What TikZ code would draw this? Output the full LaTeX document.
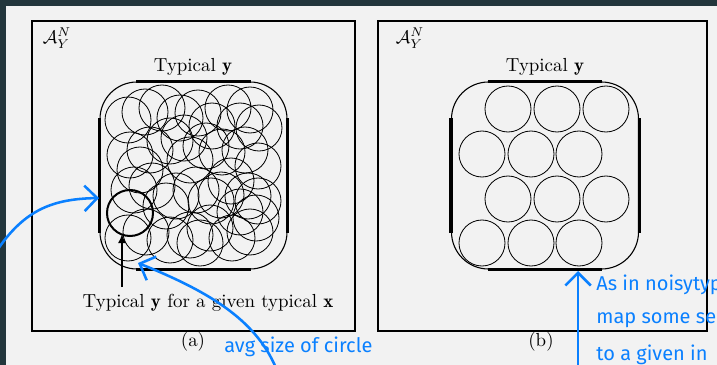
\documentclass[tikz,border=0pt]{standalone}
\usepackage{amsmath}
\usepackage{fontspec}
\newfontfamily\handfont{Fira Sans}
\usetikzlibrary{arrows.meta}

\definecolor{pagedark}{RGB}{35,54,60}
\definecolor{pagegray}{RGB}{242,242,242}
\definecolor{penblue}{RGB}{10,128,255}

\begin{document}
\begin{tikzpicture}
[
	x=0.55pt,
	y=-0.55pt,
	font=\fontsize{10.4}{12.5}\selectfont,
	frame/.style={draw,line width=1.1pt},
	typset/.style={draw,line width=0.6pt,rounded corners=20.35pt,minimum size=102.85pt,inner sep=0pt},
	edge/.style={line width=1.7pt},
	ring/.style={line width=0.45pt},
	pen/.style={penblue,line width=1.4pt,line cap=round,-{Straight Barb[length=7pt,width=14pt]}},
	note/.style={penblue,font=\handfont\fontsize{11}{13}\selectfont,inner sep=0pt,anchor=west}
]

	% page
	\useasboundingbox (0,0) rectangle (717,365);
	\fill[pagedark] (0,0) rectangle (717,365);
	\fill[pagegray] (6,6) rectangle (717,365);

	% panel (a)
	\draw[frame] (32,21) rectangle (355,331);
	\node (seta) at (57,38) {$\mathcal{A}_Y^N$};
	\node (tya) at (193,67) {Typical $\mathbf{y}$};
	\node[typset] (sqa) at (193.5,175.5) {};
	\draw[edge] ([xshift=20.35pt]sqa.north west) -- ([xshift=-20.35pt]sqa.north east);
	\draw[edge] ([xshift=20.35pt]sqa.south west) -- ([xshift=-20.35pt]sqa.south east);
	\draw[edge] ([yshift=-20.35pt]sqa.north west) -- ([yshift=20.35pt]sqa.south west);
	\draw[edge] ([yshift=-20.35pt]sqa.north east) -- ([yshift=20.35pt]sqa.south east);
	\foreach \cx/\cy in {128/120,145/112,162/108,180/118,198/113,212/126,228/108,250/110,259/128,240/126,
		130/155,150/150,170/141,190/160,206/146,222/152,245/150,258/166,184/138,140/170,
		134/190,152/186,176/196,196/190,211/201,231/181,248/196,258/201,240/212,166/206,221/195,
		128/238,146/232,170/240,190/235,210/228,232/238,250/232,256/218,200/243}
		\draw[ring] (\cx,\cy) circle[radius=23];
	\draw[line width=1.1pt] (130,213) circle[radius=23];
	\node (givena) at (208,303) {Typical $\mathbf{y}$ for a given typical $\mathbf{x}$};
	\coordinate (taila) at (122,287);
	\coordinate (tipa) at (122,234);
	\draw[line width=1.3pt,-{Latex[length=5pt,width=4.5pt]}] (taila) -- (tipa);
	\node (capa) at (193,342) {(a)};

	% panel (b)
	\draw[frame] (378,21) rectangle (707,331);
	\node (setb) at (410,38) {$\mathcal{A}_Y^N$};
	\node (tyb) at (545,67) {Typical $\mathbf{y}$};
	\node[typset] (sqb) at (545,175.5) {};
	\draw[edge] ([xshift=20.35pt]sqb.north west) -- ([xshift=-20.35pt]sqb.north east);
	\draw[edge] ([xshift=20.35pt]sqb.south west) -- ([xshift=-20.35pt]sqb.south east);
	\draw[edge] ([yshift=-20.35pt]sqb.north west) -- ([yshift=20.35pt]sqb.south west);
	\draw[edge] ([yshift=-20.35pt]sqb.north east) -- ([yshift=20.35pt]sqb.south east);
	\foreach \cx/\cy in {508/109,557/109,606/109,482/154,531/154,579/154,
		508/199,557/199,606/199,482/243,531/243,579/243}
		\draw[ring] (\cx,\cy) circle[radius=23];
	\node (capb) at (541,342) {(b)};

	% handwritten notes
	\coordinate (penA) at (-4,252);
	\coordinate (penAtip) at (99,198);
	\draw[pen] (penA) .. controls (25,208) and (55,199) .. (penAtip);
	\coordinate (penB) at (276,368);
	\coordinate (penBtip) at (138,263);
	\draw[pen] (penB) .. controls (255,318) and (205,290) .. (penBtip);
	\node[note] (avg) at (224,347) {avg size of circle};
	\coordinate (penC) at (578,368);
	\coordinate (penCtip) at (578,271);
	\draw[pen] (penC) -- (penCtip);
	\node[note] (noteone) at (596,285) {As in noisytyp};
	\node[note] (notetwo) at (596,320) {map some se};
	\node[note] (notethree) at (596,355) {to a given in};

\end{tikzpicture}
\end{document}
